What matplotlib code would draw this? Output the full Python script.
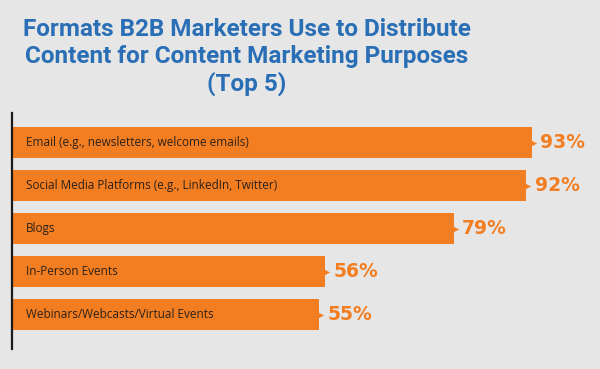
import matplotlib.pyplot as plt

# chart data
categories = [
    "Email (e.g., newsletters, welcome emails)",
    "Social Media Platforms (e.g., LinkedIn, Twitter)",
    "Blogs",
    "In-Person Events",
    "Webinars/Webcasts/Virtual Events",
]
values = [93, 92, 79, 56, 55]
title = "Formats B2B Marketers Use to Distribute\nContent for Content Marketing Purposes\n(Top 5)"

BG = "#e6e6e6"
ORANGE = "#f37e22"
BLUE = "#2a6fb6"

fig = plt.figure(figsize=(6, 3.69), dpi=100, facecolor=BG)
ax = fig.add_axes([12 / 600, 1 - 349 / 369, 1 - 12 / 600, (349 - 113) / 369])
ax.set_facecolor(BG)

y = list(range(len(values)))
ax.barh(y, values, height=0.72, color=ORANGE, edgecolor="none")
# small arrow tip at the end of each bar
ax.scatter(values, y, marker=">", s=45, color=ORANGE, linewidths=0, zorder=3)

for yi, (cat, v) in enumerate(zip(categories, values)):
    ax.text(2.5, yi, cat, va="center", ha="left", fontsize=8.5,
            family="Open Sans", color="#2b2118")
    ax.text(v + 1.5, yi, f"{v}%", va="center", ha="left", fontsize=13.5,
            fontweight="bold", family="DejaVu Sans", color=ORANGE)

ax.set_xlim(0, 105.2)
ax.set_ylim(4.802, -0.686)
for s in ["top", "right", "bottom"]:
    ax.spines[s].set_visible(False)
ax.spines["left"].set_linewidth(1.6)
ax.spines["left"].set_color("#1a1a1a")
ax.set_xticks([])
ax.set_yticks([])

fig.text(247 / 600, 1 - 57 / 369, title, ha="center", va="center", fontsize=17.5,
         fontweight="bold", family="Roboto", color=BLUE, linespacing=1.2)

fig.savefig("out.png", dpi=100, facecolor=BG)
